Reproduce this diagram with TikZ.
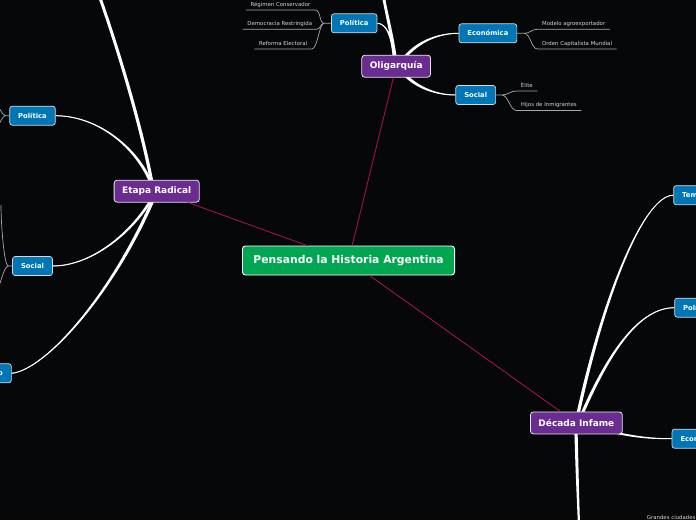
\documentclass[tikz,border=0pt]{standalone}
\usepackage{fontspec}
\setmainfont{DejaVu Sans}
\usetikzlibrary{calc}
\definecolor{bgc}{HTML}{060709}
\definecolor{cgreen}{HTML}{00A651}
\definecolor{cpurple}{HTML}{6A2C91}
\definecolor{cblue}{HTML}{0076B6}
\definecolor{cred}{HTML}{A11245}
\definecolor{lgray}{HTML}{D4D4D4}
\definecolor{tgray}{HTML}{A8A8A8}
\pgfdeclarelayer{back}
\pgfdeclarelayer{bg}
\pgfsetlayers{back,bg,main}
\newcommand\branch[6]{%
  \fill[white] ($#1+#5$) .. controls ($#2+#5$) and ($#3+#6$) .. ($#4+#6$)
    -- ($#4-#6$) .. controls ($#3-#6$) and ($#2-#5$) .. ($#1-#5$) -- cycle;
  \draw[white,line width=0.5pt] #1 .. controls #2 and #3 .. #4;}
\begin{document}
\begin{tikzpicture}[x=1pt,y=-1pt,
  ctr/.style={draw=white,line width=0.9pt,fill=cgreen,rounded corners=3pt,text=white,
    font=\fontsize{10.8}{12}\selectfont\bfseries,minimum height=29pt,inner xsep=11pt},
  mainnode/.style={draw=white!90!black,line width=0.8pt,fill=cpurple,rounded corners=3pt,text=white,
    font=\fontsize{9}{10}\selectfont\bfseries,minimum height=22pt,inner xsep=8pt},
  sub/.style={draw=white!85!black,line width=0.7pt,fill=cblue,rounded corners=2.5pt,text=white,
    font=\fontsize{6.8}{8}\selectfont\bfseries,minimum height=19pt,inner xsep=8.5pt},
  leaf/.style={text=lgray,font=\fontsize{5.4}{6}\selectfont,inner xsep=4.4pt,inner ysep=2.2pt,
    text height=4pt,text depth=1.4pt},
  twig/.style={draw=tgray,line width=0.7pt},
  redl/.style={draw=cred,line width=0.9pt}]
\useasboundingbox (0,0) rectangle (696,520);
\begin{pgfonlayer}{back}
  \fill[bgc] (0,0) rectangle (696,520);
\end{pgfonlayer}
\clip (0,0) rectangle (696,520);

% main nodes
\node[ctr] (c) at (348.5,260.5) {Pensando la Historia Argentina};
\node[mainnode] (olig) at (396.2,66.2) {Oligarquía};
\node[mainnode] (er) at (156.7,191.2) {Etapa Radical};
\node[mainnode] (di) at (576.4,422.9) {Década Infame};

% sub nodes
\node[sub] (polO) at (354.2,23.3) {Política};
\node[sub] (ecoO) at (487.9,33.3) {Económica};
\node[sub] (socO) at (475.7,95) {Social};
\node[sub] (polER) at (32.5,115.7) {Política};
\node[sub] (socER) at (32.5,266) {Social};
\node[sub,anchor=east] (ecoER) at (11.7,373.3) {Económico};
\node[sub,anchor=west] (temDI) at (673.3,195.2) {Temas};
\node[sub,anchor=west] (polDI) at (674.3,307.7) {Política};
\node[sub,anchor=west] (ecoDI) at (671.7,438.7) {Económica};

% leaves
\node[leaf,anchor=south east] (r1) at (315,10) {Régimen Conservador\hspace{4pt}};
\node[leaf,anchor=south east] (r2) at (316.7,29.3) {Democracia Restringida\hspace{5pt}};
\node[leaf,anchor=south east] (r3) at (311.7,49) {Reforma Electoral};
\node[leaf,anchor=south west] (m1) at (537.5,29.3) {Modelo agroexportador\hspace{1pt}};
\node[leaf,anchor=south west] (m2) at (537.5,49) {Orden Capitalista Mundial};
\node[leaf,anchor=south west] (s1) at (516.3,91) {Élite};
\node[leaf,anchor=south west] (s2) at (516.3,110.5) {Hijos de Inmigrantes};
\node[leaf,anchor=base west,inner sep=0pt] (gc) at (646.7,519.3) {Grandes ciudades};

% red connectors
\draw[redl] (c) -- (olig);
\draw[redl] (c) -- (er);
\draw[redl] (c) -- (di);

% leaf connectors
\coordinate (jP) at ($(polO.west)+(-7,0)$);
\draw[twig] (r1.south west) -- (r1.south east) .. controls +(6,0) and +(-5,0) .. (jP) -- (polO.west);
\draw[twig] (r2.south west) -- (r2.south east) .. controls +(4,0) and +(-4,0) .. (jP);
\draw[twig] (r3.south west) -- (r3.south east) .. controls +(6,0) and +(-5,0) .. (jP);
\coordinate (jE) at ($(ecoO.east)+(7,0)$);
\draw[twig] (ecoO.east) -- (jE) .. controls +(6,0) and +(-6,0) .. (m1.south west) -- (m1.south east);
\draw[twig] (jE) .. controls +(6,0) and +(-6,0) .. (m2.south west) -- (m2.south east);
\coordinate (jS) at ($(socO.east)+(6,0)$);
\draw[twig] (socO.east) -- (jS) .. controls +(6,0) and +(-6,0) .. (s1.south west) -- (s1.south east);
\draw[twig] (jS) .. controls +(6,0) and +(-6,0) .. (s2.south west) -- (s2.south east);

% left-edge twigs
\coordinate (lp) at ($(polER.west)+(-4,0)$);
\coordinate (o1) at (-4,102);
\coordinate (o2) at (-4,130);
\draw[twig] (polER.west) -- (lp) .. controls +(-3,0) and +(2,3) .. (o1);
\draw[twig] (lp) .. controls +(-3,0) and +(2,-3) .. (o2);
\coordinate (ls) at ($(socER.west)+(-4,0)$);
\coordinate (o3) at (1,205);
\coordinate (o4) at (-3,298);
\draw[twig] (socER.west) -- (ls) .. controls +(-4,0) and +(0,20) .. (o3);
\draw[twig] (ls) .. controls +(-4,0) and +(1,-10) .. (o4);

% thick tapered branches
\coordinate (oU0) at (395,57);
\coordinate (oU) at (383,-6);
\coordinate (oP0) at (394,57);
\coordinate (oE0) at (405,57);
\coordinate (oS0) at (405,75);
\coordinate (eU0) at (152,183);
\coordinate (eU) at (99,-5);
\coordinate (eP0) at (151,183);
\coordinate (eS0) at (151,200);
\coordinate (eB0) at (153,200);
\coordinate (dT0) at (578,414);
\coordinate (dP0) at (582,414);
\coordinate (dE0) at (612,432);
\coordinate (dD0) at (576,432);
\coordinate (dD) at (579,525);
\begin{pgfonlayer}{bg}
  \branch{(oU0)}{(392,35)}{(386,12)}{(oU)}{(1.57,-0.3)}{(1.37,-0.27)}
  \branch{(oP0)}{(392,36)}{(386,23.3)}{(polO.east)}{(1.3,-0.13)}{(0,-0.5)}
  \branch{(oE0)}{(420,40)}{(440,33.3)}{(ecoO.west)}{(1.12,0.99)}{(0,0.5)}
  \branch{(oS0)}{(420,90)}{(440,95)}{(socO.west)}{(-1.06,1.06)}{(0,0.5)}
  \branch{(eU0)}{(140,120)}{(115,40)}{(eU)}{(1.57,-0.3)}{(1.41,-0.5)}
  \branch{(eP0)}{(138,150)}{(100,116)}{(polER.east)}{(1.4,-0.55)}{(0,-0.5)}
  \branch{(eS0)}{(130,235)}{(90,266)}{(socER.east)}{(-1.12,-0.66)}{(0,-0.5)}
  \branch{(eB0)}{(112,295)}{(45,370)}{(ecoER.east)}{(-1.47,-0.64)}{(0,-0.5)}
  \branch{(dT0)}{(605,290)}{(645,195.2)}{(temDI.west)}{(1.57,0.34)}{(0,0.5)}
  \branch{(dP0)}{(610,350)}{(640,307.7)}{(polDI.west)}{(1.37,0.6)}{(0,0.5)}
  \branch{(dE0)}{(635,437)}{(650,438.7)}{(ecoDI.west)}{(-0.2,1)}{(0,0.5)}
  \branch{(dD0)}{(577,470)}{(578,500)}{(dD)}{(-1.6,0)}{(-1.1,0)}
\end{pgfonlayer}
\end{tikzpicture}
\end{document}
